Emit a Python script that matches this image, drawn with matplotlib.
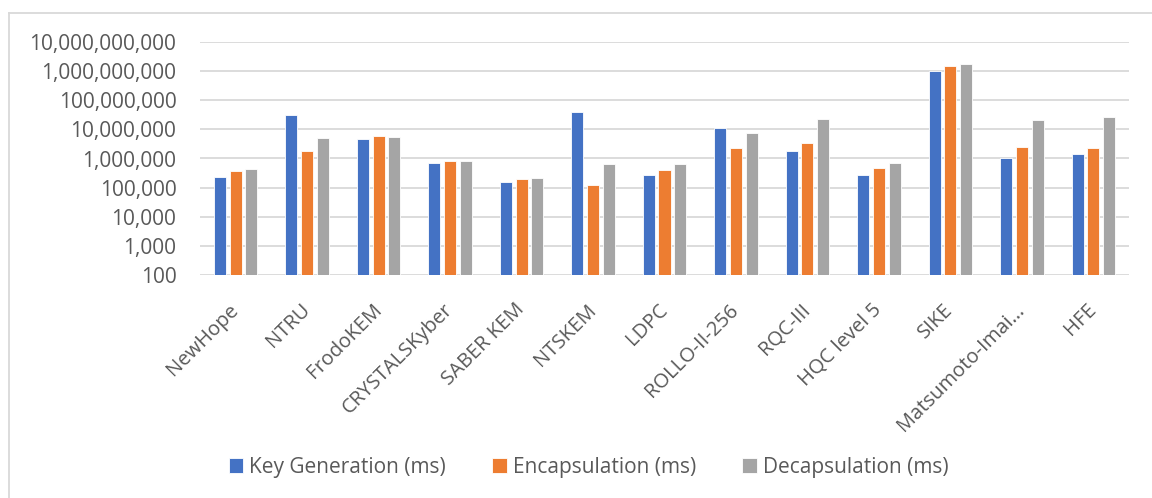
import numpy as np
import matplotlib
matplotlib.use("Agg")
import matplotlib.pyplot as plt
from matplotlib.ticker import FuncFormatter, FixedLocator, NullLocator
from matplotlib.lines import Line2D

plt.rcParams['font.family'] = ['Open Sans', 'DejaVu Sans']

categories = ["NewHope", "NTRU", "FrodoKEM", "CRYSTALSKyber", "SABER KEM", "NTSKEM",
              "LDPC", "ROLLO-II-256", "RQC-III", "HQC level 5", "SIKE",
              "Matsumoto-Imai…", "HFE"]
key_generation = [235000, 31400000, 4720000, 710000, 158000, 38800000, 275000,
                  11000000, 1780000, 261000, 1040000000, 1080000, 1450000]
encapsulation = [368000, 1780000, 5980000, 789000, 191000, 122000, 409000,
                 2320000, 3440000, 466000, 1500000000, 2510000, 2320000]
decapsulation = [430000, 4980000, 5680000, 832000, 217000, 640000, 640000,
                 7800000, 22300000, 692000, 1810000000, 21200000, 26100000]
series_names = ["Key Generation (ms)", "Encapsulation (ms)", "Decapsulation (ms)"]
colors = ["#4472C4", "#ED7D31", "#A5A5A5"]
y_ticks = [1e2, 1e3, 1e4, 1e5, 1e6, 1e7, 1e8, 1e9, 1e10]

W, H = 1152, 498
fig = plt.figure(figsize=(W / 100, H / 100), dpi=100)
ax = fig.add_axes([200 / W, (H - 275) / H, (1129 - 200) / W, (275 - 42) / H])

x = np.arange(len(categories))
step = 0.22
width = 0.168
for i, (vals, name, c) in enumerate(zip([key_generation, encapsulation, decapsulation],
                                        series_names, colors)):
    ax.bar(x + (i - 1) * step, vals, width=width, color=c, label=name,
           edgecolor="white", linewidth=0.6, zorder=3)

ax.set_yscale("log")
ax.set_ylim(1e2, 1e10)
ax.set_xlim(-0.5, len(categories) - 0.5)
ax.yaxis.set_major_locator(FixedLocator(y_ticks))
ax.yaxis.set_minor_locator(NullLocator())
ax.yaxis.set_major_formatter(FuncFormatter(lambda v, p: f"{int(round(v)):,}"))
ax.grid(axis="y", color="#D9D9D9", linewidth=1.3, zorder=0)
for s in ax.spines.values():
    s.set_visible(False)
ax.tick_params(axis="y", length=0, pad=17, labelsize=15, labelcolor="#595959")
ax.set_xticks(x)
ax.set_xticklabels(categories, rotation=45, ha="right", va="center",
                   rotation_mode="anchor", fontsize=14.5, color="#595959")
ax.tick_params(axis="x", length=0, pad=23)

fig.legend(loc="center", bbox_to_anchor=(588.5 / W, (H - 467) / H), ncol=3,
           frameon=False, fontsize=15, labelcolor="#595959",
           handlelength=0.7, handleheight=0.7, handletextpad=0.3,
           columnspacing=2.2)

border_c = "#D9D9D9"
fig.add_artist(Line2D([9 / W, 9 / W], [0, (H - 13) / H], color=border_c, linewidth=1.3))
fig.add_artist(Line2D([9 / W, 1], [(H - 13) / H, (H - 13) / H], color=border_c, linewidth=1.3))

fig.savefig("out.png", dpi=100, facecolor="white")
